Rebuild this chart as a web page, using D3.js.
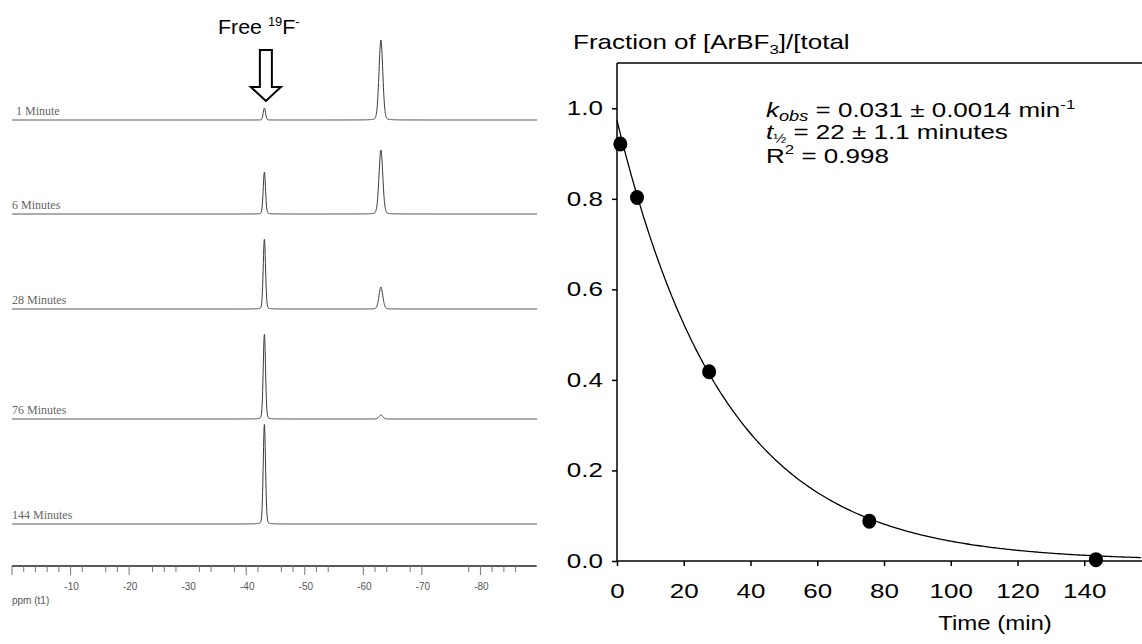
<!DOCTYPE html>
<html>
<head>
<meta charset="utf-8">
<script src="https://cdn.jsdelivr.net/npm/d3@7"></script>
<style>
  html, body { margin: 0; padding: 0; background: #fff; }
  svg { display: block; }
</style>
</head>
<body>
<svg id="chart" width="1142" height="644"></svg>
<script>
// ---------------- DATA ----------------
// Left panel: 19F NMR spectra
const spectrumLabels = ["1 Minute", "6 Minutes", "28 Minutes", "76 Minutes", "144 Minutes"];
const peakPositions = [-43.1, -63.0];              // ppm: free fluoride, ArBF3
const freeFluorideHeights = [12, 42, 70, 85, 100]; // relative intensity
const arbf3Heights = [80, 64, 22, 4, 0];           // relative intensity
const ppmMajorTicks = [0, -10, -20, -40, -50, -60, -70, -80];
const ppmLabelTicks = [-10, -20, -30, -40, -50, -60, -70, -80];
const ppmMinorTicks = [-2, -4, -6, -8, -12, -16, -18, -24, -26, -28, -32, -34, -38, -42, -46, -48, -52, -54, -62, -64, -68, -78, -82, -84, -86];

// Right panel: kinetics
const timeMin = [1, 6, 27.6, 75.6, 143.5];
const fraction = [0.921, 0.803, 0.418, 0.088, 0.003];
const fitA = 0.973, fitK = 0.031;
const timeTicks = [0, 20, 40, 60, 80, 100, 120, 140];
const fracTicks = [0.0, 0.2, 0.4, 0.6, 0.8, 1.0];

// ---------------- DRAW ----------------
const svg = d3.select("#chart");

// ===== Left panel =====
const xPpm = d3.scaleLinear().domain([0, -90]).range([12, 539]);
const baselineLayout = [120, 214, 309, 419, 524];
const baselineY = d3.scaleOrdinal().domain(spectrumLabels).range(baselineLayout);
const hScale = d3.scaleLinear().domain([0, 100]).range([0, 100]);

const gL = svg.append("g");
const ppmGrid = d3.range(0, -89.7, -0.04);
const sigmas = [0.2, 0.33];
const line = d3.line().x(d => xPpm(d[0])).y(d => d[1]);

spectrumLabels.forEach((lab, i) => {
  const y0 = baselineY(lab);
  const hts = [freeFluorideHeights[i], arbf3Heights[i]];
  const pts = ppmGrid.map(p => {
    let v = 0;
    peakPositions.forEach((c, j) => {
      const z = (p - c) / sigmas[j];
      v += hts[j] * (0.85 * Math.exp(-0.5 * z * z) + 0.15 / (1 + z * z));
    });
    return [p, y0 - hScale(v)];
  });
  gL.append("path").attr("d", line(pts))
    .attr("fill", "none").attr("stroke", "#3a3a3a").attr("stroke-width", 1);
  gL.append("text").attr("x", i === 0 ? 16 : 12).attr("y", y0 - 5)
    .attr("font-family", "'Liberation Serif', serif").attr("font-size", 12)
    .attr("fill", "#666").text(lab);
});

// ppm axis
const axY = 566;
gL.append("line").attr("x1", xPpm(0)).attr("x2", xPpm(-89.6)).attr("y1", axY).attr("y2", axY)
  .attr("stroke", "#222").attr("stroke-width", 1.3);
gL.selectAll(".maj").data(ppmMajorTicks).join("line")
  .attr("x1", d => xPpm(d)).attr("x2", d => xPpm(d)).attr("y1", axY).attr("y2", axY + 9)
  .attr("stroke", "#777").attr("stroke-width", 1);
gL.selectAll(".min").data(ppmMinorTicks).join("line")
  .attr("x1", d => xPpm(d)).attr("x2", d => xPpm(d)).attr("y1", axY).attr("y2", axY + 6)
  .attr("stroke", "#777").attr("stroke-width", 1);
gL.selectAll(".lab").data(ppmLabelTicks).join("text")
  .attr("x", d => xPpm(d) + 1).attr("y", axY + 24)
  .attr("text-anchor", "middle")
  .attr("font-family", "'Liberation Sans Narrow', 'Liberation Sans', sans-serif").attr("font-size", 10)
  .attr("fill", "#555").text(d => d);
gL.append("text").attr("x", 12).attr("y", axY + 38)
  .attr("font-family", "'Liberation Sans Narrow', 'Liberation Sans', sans-serif").attr("font-size", 10)
  .attr("fill", "#555").text("ppm (t1)");

// Free 19F- label and arrow
const fontR = "Arial, 'Liberation Sans', sans-serif";
const ft = gL.append("text").attr("transform", "translate(218,34) scale(1.07,1)")
  .attr("font-family", fontR).attr("font-size", 20).attr("fill", "#000");
ft.append("tspan").text("Free ");
ft.append("tspan").attr("font-size", 12).attr("dy", -8).text("19");
ft.append("tspan").attr("dy", 8).text("F");
ft.append("tspan").attr("font-size", 12).attr("dy", -8).text("-");

const ax = xPpm(peakPositions[0]) + 1.5;
gL.append("path")
  .attr("d", `M${ax - 6},50 L${ax + 6},50 L${ax + 6},87 L${ax + 15},87 L${ax},101 L${ax - 15},87 L${ax - 6},87 Z`)
  .attr("fill", "#fff").attr("stroke", "#000").attr("stroke-width", 2).attr("stroke-linejoin", "miter");

// ===== Right panel =====
const xT = d3.scaleLinear().domain([0, 157]).range([617, 1141]);
const yF = d3.scaleLinear().domain([0, 1.1]).range([561, 63]);
const gR = svg.append("g");
const SX = 1.3;

// frame top
gR.append("line").attr("x1", 617).attr("x2", 1142).attr("y1", yF(1.1)).attr("y2", yF(1.1))
  .attr("stroke", "#000").attr("stroke-width", 1.5);

const yAxis = gR.append("g").attr("transform", `translate(617,0)`)
  .call(d3.axisLeft(yF).tickValues(fracTicks).tickFormat(d3.format(".1f")).tickSize(5));
yAxis.select(".domain").attr("d", `M0,${yF(1.1)}V${yF(0)}`).attr("stroke-width", 1.5);
yAxis.selectAll("text").attr("font-family", fontR).attr("font-size", 20).attr("fill", "#000")
  .attr("x", -14 / SX).attr("transform", `scale(${SX},1)`);
yAxis.selectAll("line").attr("stroke-width", 1.5);

const xAxis = gR.append("g").attr("transform", `translate(0,561)`)
  .call(d3.axisBottom(xT).tickValues(timeTicks).tickSize(5).tickPadding(18));
xAxis.select(".domain").attr("d", `M617,0H1142`).attr("stroke-width", 1.5);
xAxis.selectAll("text").attr("font-family", fontR).attr("font-size", 20).attr("fill", "#000")
  .attr("transform", `scale(${SX},1)`);
xAxis.selectAll("line").attr("stroke-width", 1.5);

// fit curve
const tGrid = d3.range(0, 157.01, 0.5);
gR.append("path")
  .attr("d", d3.line().x(t => xT(t)).y(t => yF(fitA * Math.exp(-fitK * t)))(tGrid))
  .attr("fill", "none").attr("stroke", "#000").attr("stroke-width", 1.3);

// points
gR.selectAll(".pt").data(timeMin).join("ellipse")
  .attr("cx", d => xT(d)).attr("cy", (d, i) => yF(fraction[i]))
  .attr("rx", 7).attr("ry", 7.5).attr("fill", "#000");

// title
const tt = gR.append("text").attr("transform", `translate(573,49) scale(${SX},1)`)
  .attr("font-family", fontR).attr("font-size", 20);
tt.append("tspan").text("Fraction of [ArBF");
tt.append("tspan").attr("font-size", 13).attr("dy", 5).text("3");
tt.append("tspan").attr("dy", -5).text("]/[total");

// x label
gR.append("text").attr("transform", `translate(995,630) scale(1.2,1)`).attr("text-anchor", "middle")
  .attr("font-family", fontR).attr("font-size", 20).text("Time (min)");

// annotation
const annX = 766;
const a1 = gR.append("text").attr("transform", `translate(${annX},117) scale(${SX},1)`)
  .attr("font-family", fontR).attr("font-size", 20);
a1.append("tspan").attr("font-style", "italic").text("k");
a1.append("tspan").attr("font-style", "italic").attr("font-size", 14).attr("dy", 4).text("obs");
a1.append("tspan").attr("dy", -4).text(" = 0.031 ± 0.0014 min");
a1.append("tspan").attr("font-size", 13).attr("dy", -8).text("-1");

const a2 = gR.append("text").attr("transform", `translate(${annX},139) scale(${SX},1)`)
  .attr("font-family", fontR).attr("font-size", 20);
a2.append("tspan").attr("font-style", "italic").text("t");
a2.append("tspan").attr("font-size", 12).attr("dy", 4).text("½");
a2.append("tspan").attr("dy", -4).text(" = 22 ± 1.1 minutes");

const a3 = gR.append("text").attr("transform", `translate(${annX},163) scale(${SX},1)`)
  .attr("font-family", fontR).attr("font-size", 20);
a3.append("tspan").text("R");
a3.append("tspan").attr("font-size", 13).attr("dy", -9).text("2");
a3.append("tspan").attr("dy", 9).text(" = 0.998");
</script>
</body>
</html>
